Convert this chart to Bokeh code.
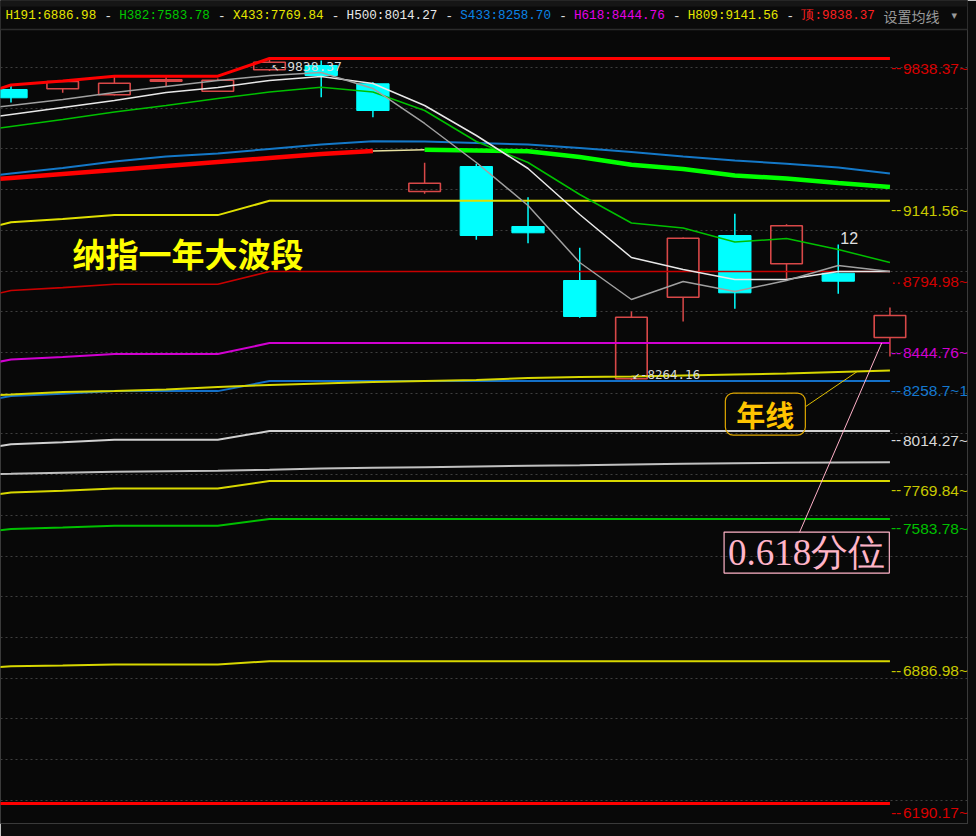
import numpy as np
from bokeh.plotting import figure
from bokeh.models import Range1d, Grid, FixedTicker, Label, Span, BoxAnnotation
from bokeh.core.properties import value
from bokeh.embed import file_html
from bokeh.resources import INLINE

# ---------------- data ----------------
# daily candles, index 0..17
opens  = [9686.6, 9690.0, 9660.6, 9727.2, 9678.3, 9783.0, 9804.1, 9714.5, 9187.1,
          9309.5, 9015.7, 8751.2, 8269.9, 8669.4, 8971.6, 8833.0, 8787.0, 8472.1]
highs  = [9708.6, 9728.2, 9751.7, 9746.8, 9740.4, 9838.37, 9828.6, 9722.3, 9327.6,
          9322.7, 9159.2, 8911.4, 8599.5, 8961.8, 9077.9, 9027.0, 8927.5, 8619.0]
lows   = [9622.9, 9670.4, 9657.2, 9702.7, 9674.3, 9777.0, 9648.8, 9550.9, 9175.8,
          8950.5, 8934.0, 8568.5, 8264.16, 8550.5, 8612.7, 8759.6, 8686.1, 8379.0]
closes = [9645.9, 9725.7, 9717.4, 9734.1, 9732.0, 9820.3, 9755.1, 9583.7, 9227.7,
          8971.6, 8984.8, 8574.9, 8571.6, 8958.3, 8691.0, 9019.1, 8747.8, 8579.8]

prior_high = 9628.4          # highest high before the first visible candle
swing_low = 6190.17          # wave low

# Fibonacci levels of the wave (legend names / ratios)
fib_names  = ["H191", "H382", "X433", "H500", "S433", "H618", "H809", "顶"]
fib_ratios = [0.191, 0.382, 0.433, 0.5, 0.567, 0.618, 0.809, 1.0]
extra_ratios = [0.0, 0.714]   # levels not listed in the legend

# moving averages, index -1..17
ma_fast  = [9578.8, 9608.2, 9637.6, 9671.9, 9701.3, 9730.6, 9755.1, 9769.8, 9691.5, 9520.1,
            9329.1, 9118.5, 8839.4, 8658.2, 8746.3, 8697.4, 8751.2, 8824.7, 8795.3]
ma_mid   = [9529.9, 9564.1, 9598.4, 9632.7, 9671.9, 9696.4, 9730.6, 9750.2, 9716.0, 9608.2,
            9461.3, 9299.7, 9074.4, 8863.9, 8805.1, 8756.1, 8756.1, 8795.3, 8795.3]
ma_green = [9471.1, 9505.4, 9539.7, 9576.4, 9608.2, 9642.5, 9674.3, 9697.8, 9674.3, 9583.7,
            9432.0, 9329.1, 9172.4, 9032.8, 9008.3, 8939.9, 8956.9, 8903.0, 8839.4]
ma_thick = [9233.6, 9253.2, 9272.8, 9292.4, 9312.0, 9331.5, 9351.1, 9370.7, 9385.4, 9391.3,
            9387.9, 9384.4, 9356.0, 9317.8, 9297.2, 9265.4, 9250.7, 9228.7, 9209.1]
ma_blue  = [9245.8, 9275.2, 9302.2, 9334.0, 9358.5, 9373.2, 9395.2, 9417.2, 9433.4, 9431.9,
            9424.6, 9417.2, 9400.1, 9380.5, 9358.5, 9338.9, 9322.7, 9304.6, 9275.2]
ma_year  = [8183.2, 8193.0, 8205.2, 8210.1, 8217.5, 8229.7, 8239.5, 8246.8, 8254.2, 8259.1,
            8264.0, 8273.8, 8278.7, 8281.1, 8286.0, 8290.9, 8295.8, 8303.2, 8310.5]
ma_long  = [7801.2, 7804.6, 7809.5, 7814.4, 7816.9, 7819.3, 7824.2, 7830.6, 7834.0, 7837.0,
            7840.4, 7843.8, 7846.8, 7850.2, 7853.6, 7856.6, 7858.6, 7860.0, 7861.5]

grid_values = [9794, 9595, 9396, 9196, 8997, 8797, 8598, 8399, 8199, 8000,
               7800, 7601, 7402, 7202, 7003, 6803, 6604, 6405, 6205]

count_label = "12"
title_text = "纳指一年大波段"
year_text = "年线"
fib_note = "0.618分位"
menu_text = "设置均线"

# ---------------- styles ----------------
BG = "#080808"
UP = "#D84848"
DOWN = "#00FFFF"
level_style = {
    0.0:   ("#FF0000", 3.0, "#D80000", "--"),
    0.191: ("#D8D800", 2.0, "#C8C800", "--"),
    0.382: ("#00C000", 2.0, "#00C000", "--"),
    0.433: ("#D8D800", 2.0, "#C8C800", "--"),
    0.5:   ("#D0D0D0", 2.0, "#D8D8D8", "--"),
    0.567: ("#1470C8", 2.0, "#1478D0", "--"),
    0.618: ("#D000D0", 2.0, "#D000D0", "--"),
    0.714: ("#C80000", 1.6, "#D00000", "···"),
    0.809: ("#E0E000", 2.0, "#C8C800", "--"),
    1.0:   ("#FF0000", 3.0, "#D80000", "--"),
}
legend_colors = ["#E6E600", "#00C800", "#E6E600", "#E8E8E8", "#0A84E6", "#E600E6", "#E6E600", "#FF2020"]

Y_TOP, Y_BOT = 10122.4, 6092.2
PX = (Y_TOP - Y_BOT) / 823.0       # value units per screen pixel

# ---------------- figure ----------------
p = figure(width=976, height=836, x_range=Range1d(-0.203, 18.5), y_range=Range1d(Y_BOT, Y_TOP),
           output_backend="svg", toolbar_location=None,
           x_axis_location=None, y_axis_location=None,
           min_border_left=0, min_border_right=9, min_border_top=0, min_border_bottom=13,
           background_fill_color=BG, border_fill_color="#0c0c0c",
           outline_line_color="#3a3a3a", outline_line_width=1)
p.xgrid.visible = False
p.ygrid.visible = False
p.add_layout(Grid(dimension=1, ticker=FixedTicker(ticks=grid_values),
                  grid_line_color="#3e3e3e", grid_line_dash="2 3", grid_line_width=1))

# top legend band
p.add_layout(BoxAnnotation(bottom=Y_TOP - 29 * PX, fill_color="#0a0a0a", fill_alpha=1, line_alpha=0, level="underlay"))
p.add_layout(BoxAnnotation(bottom=Y_TOP - 6 * PX, fill_color="#161616", fill_alpha=1, line_alpha=0, level="underlay"))
p.add_layout(Span(location=Y_TOP - 29 * PX, dimension="width", line_color="#2c2c2c", line_width=1.5))

# ---------------- candles ----------------
o = np.array(opens); h = np.array(highs); l = np.array(lows); c = np.array(closes)
idx = np.arange(len(o))
up = c >= o
top = np.maximum(o, c); bot = np.minimum(o, c)
p.segment(idx[up], h[up], idx[up], top[up], line_color=UP, line_width=1.5)
p.segment(idx[up], bot[up], idx[up], l[up], line_color=UP, line_width=1.5)
p.segment(idx[~up], h[~up], idx[~up], l[~up], line_color=DOWN, line_width=1.5)
p.vbar(x=idx[~up], width=0.625, top=top[~up], bottom=bot[~up], fill_color=DOWN, line_color=DOWN, line_width=1)
p.vbar(x=idx[up], width=0.61, top=top[up], bottom=bot[up], fill_alpha=0, line_color=UP, line_width=1.6)

# ---------------- Fibonacci levels (running top of the wave) ----------------
xl = np.arange(-1, len(o))
run_top = np.maximum.accumulate(np.concatenate([[prior_high], h]))
all_ratios = sorted(fib_ratios + extra_ratios)
for r in all_ratios:
    col, w, _, _ = level_style[r]
    lv = swing_low + r * (run_top - swing_low)
    p.line(xl, lv, line_color=col, line_width=w)

# ---------------- moving averages ----------------
p.line(xl, ma_long, line_color="#C0C0C0", line_width=2)
p.line(xl, ma_year, line_color="#D8D800", line_width=2)
p.line(xl, ma_blue, line_color="#1478C8", line_width=2)
p.line(xl[:9], ma_thick[:9], line_color="#FF0000", line_width=4.5)
p.line(xl[8:10], ma_thick[8:10], line_color="#E8E0A0", line_width=1.5)
p.line(xl[9:], ma_thick[9:], line_color="#00FF00", line_width=4.5)
p.line(xl, ma_green, line_color="#00C000", line_width=1.5)
p.line(xl, ma_mid, line_color="#E8E8E8", line_width=1.5)
p.line(xl, ma_fast, line_color="#A0A0A0", line_width=1.5)

# ---------------- right-hand level labels ----------------
last = idx[-1]
final_levels = [swing_low + r * (run_top[-1] - swing_low) for r in all_ratios]
suffix = {0.714: "4", 0.567: "1"}
lab_txt = [("%.2f" % v).rstrip("0").rstrip(".") + "~" + suffix.get(r, "") for r, v in zip(all_ratios, final_levels)]
lab_col = [level_style[r][2] for r in all_ratios]
pre_txt = [level_style[r][3] for r in all_ratios]
p.text(x=[last] * len(final_levels), y=final_levels, text=pre_txt, text_color=lab_col,
       text_font=value("Liberation Sans"), text_font_size="15.5px",
       text_align="left", text_baseline="middle", x_offset=1, y_offset=9.5)
p.text(x=[last] * len(final_levels), y=final_levels, text=lab_txt, text_color=lab_col,
       text_font=value("Liberation Sans"), text_font_size="15.5px",
       text_align="left", text_baseline="middle", x_offset=13, y_offset=9.5)

# ---------------- extreme price marks ----------------
i_hi = int(np.argmax(h)); i_lo = int(np.argmin(l))
p.text(x=[i_hi], y=[h[i_hi]], text=["↖-%.2f" % h[i_hi]], text_color="#D8D8D8",
       text_font=value("DejaVu Sans Mono"), text_font_size="13px",
       text_align="left", text_baseline="middle", x_offset=2, y_offset=8)
p.text(x=[i_lo], y=[l[i_lo]], text=["↙-%.2f" % l[i_lo]], text_color="#D8D8D8",
       text_font=value("DejaVu Sans Mono"), text_font_size="12.5px",
       text_align="left", text_baseline="middle", x_offset=1, y_offset=-5)
p.text(x=[16], y=[h[16]], text=[count_label], text_color="#E0E0E0",
       text_font=value("Liberation Sans"), text_font_size="16px",
       text_align="left", text_baseline="middle", x_offset=2, y_offset=-7)

# ---------------- annotations ----------------
p.add_layout(Label(x=1.19, y=8888, text=title_text, text_color="#FFFF00",
                   text_font="Noto Sans CJK SC", text_font_style="bold", text_font_size="33px",
                   text_align="left", text_baseline="middle"))

# 年线 call-out
yr_tip_x = 16.37
yr_tip_y = float(np.interp(yr_tip_x, xl, ma_year))
p.line([15.37, yr_tip_x], [8134, yr_tip_y], line_color="#E0C000", line_width=1)
p.add_layout(Label(x=14.59, y=8097, text=year_text, text_color="#FFC400",
                   text_font="Noto Sans CJK SC", text_font_style="bold", text_font_size="29px",
                   text_align="center", text_baseline="middle",
                   border_line_color="#E0A800", border_line_width=1.2, border_radius=8,
                   padding=(11, 0)))

# 0.618 call-out
fib_tip_x = 16.84
fib_tip_y = swing_low + 0.618 * (run_top[-1] - swing_low)
p.line([15.25, fib_tip_x], [7517, fib_tip_y], line_color="#FFB0C8", line_width=1)
p.add_layout(Label(x=15.39, y=7419, text=fib_note, text_color="#FFB4C8",
                   text_font="Liberation Serif", text_font_size="37px",
                   text_align="center", text_baseline="middle",
                   border_line_color="#FFB4C8", border_line_width=1.2,
                   padding=(4, 0)))

# ---------------- top legend strip ----------------
leg_y = Y_TOP - 15 * PX
leg_x0, leg_step = 5, 113.7
for k, (nm, r) in enumerate(zip(fib_names, fib_ratios)):
    v = swing_low + r * (run_top[-1] - swing_low)
    xk = leg_x0 + k * leg_step
    p.add_layout(Label(x=xk, y=leg_y, x_units="screen", y_units="data",
                       text="%s:%.2f" % (nm, v), text_color=legend_colors[k],
                       text_font="Liberation Mono", text_font_size="12.6px",
                       text_align="left", text_baseline="middle"))
    p.add_layout(Label(x=xk + leg_step - 11, y=leg_y, x_units="screen", y_units="data",
                       text="-", text_color="#E0E0E0",
                       text_font="Liberation Mono", text_font_size="12.6px",
                       text_align="center", text_baseline="middle"))
p.add_layout(Label(x=883, y=leg_y, x_units="screen", y_units="data", text=menu_text,
                   text_color="#9A9A9A", text_font="Noto Sans CJK SC", text_font_size="14px",
                   text_align="left", text_baseline="middle"))
p.add_layout(Label(x=951, y=leg_y, x_units="screen", y_units="data", text="▾",
                   text_color="#9A9A9A", text_font="DejaVu Sans", text_font_size="11px",
                   text_align="left", text_baseline="middle"))

open("out.html", "w").write(file_html(p, INLINE))
